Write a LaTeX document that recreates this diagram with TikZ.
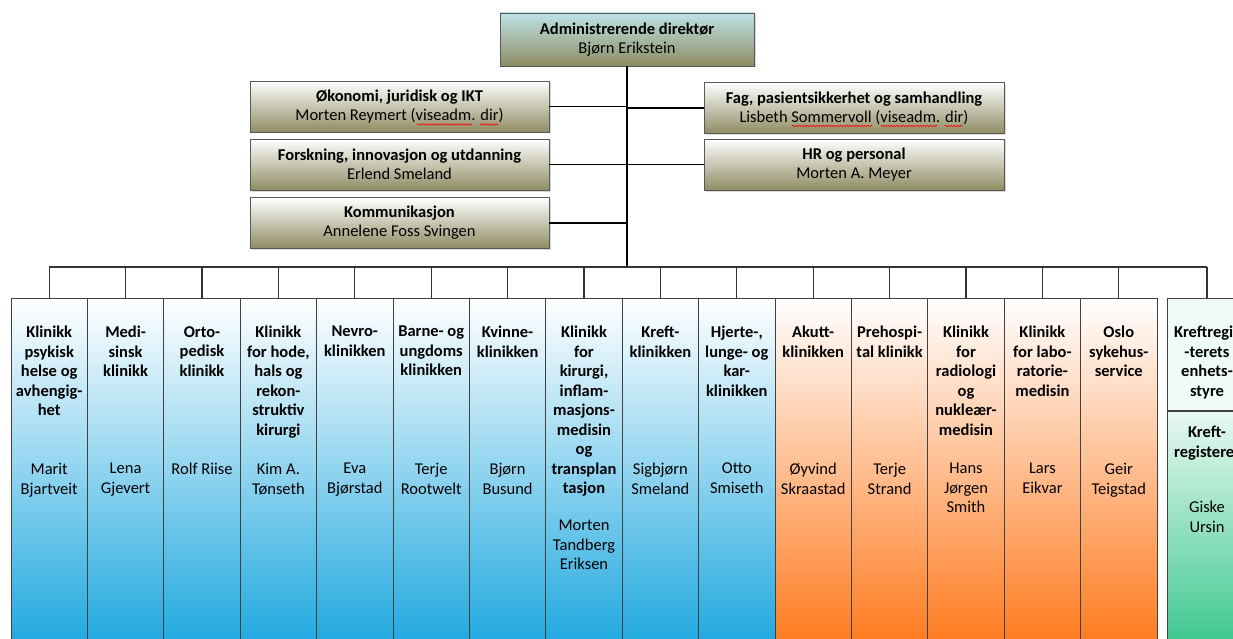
\documentclass[tikz,border=0pt]{standalone}
\usepackage{fontspec}
\setmainfont{Carlito}
\usetikzlibrary{shadows,positioning,decorations.pathmorphing}

\definecolor{oliven}{HTML}{8E8C63}
\definecolor{lysturkis}{HTML}{BDE3E6}
\definecolor{blaa}{HTML}{1FA8DF}
\definecolor{oransje}{HTML}{FF7A1E}
\definecolor{gronn}{HTML}{3CC78E}

\newcommand{\klinikk}[6]{%
  \node[kolonne,#3] (#1) at (#2,298) {};
  \node[tittel] (#1-tittel) at (#2,326) {#4};
  \node[leder] (#1-leder) at (#2,#6) {#5};
  \draw[buss] (#1.north) -- (#1.north |- bus);
}

\begin{document}
\begin{tikzpicture}[x=1pt,y=-1pt,
    stab/.style={rectangle, draw=black!65, minimum width=299, minimum height=51, align=center,
      top color=white, bottom color=oliven, font=\fontsize{16.5}{19}\selectfont,
      drop shadow={shadow xshift=1.5pt, shadow yshift=-1.5pt, opacity=.3}},
    direktor/.style={stab, minimum width=254, minimum height=53, top color=lysturkis},
    kolonne/.style={rectangle, draw=black!75, line width=1pt, anchor=north, inner sep=0,
      minimum width=76.4, minimum height=347},
    blaakolonne/.style={top color=white, middle color=blaa!32!white, bottom color=blaa},
    oransjekolonne/.style={top color=white, middle color=oransje!35!white, bottom color=oransje},
    tittel/.style={anchor=north, inner sep=0, align=center, font=\bfseries\fontsize{16.5}{19.5}\selectfont},
    leder/.style={anchor=north, inner sep=0, align=center, font=\fontsize{16.5}{19.5}\selectfont},
    buss/.style={draw=black!80, line width=1.2pt},
    stamme/.style={draw=black, line width=1.8pt},
    feil/.style={draw=red, line width=.6pt, decorate, decoration={snake, amplitude=.8pt, segment length=3pt}}]
  \useasboundingbox (0,0) rectangle (1233,639);

  \node[direktor] (adm) at (627,39.5) {\textbf{Administrerende direktør}\\Bjørn Erikstein};
  \node[stab] (okonomi) at (399.5,106.5) {\textbf{Økonomi, juridisk og IKT}\\Morten Reymert (viseadm. dir)};
  \node[stab] (forskning) at (399.5,164.5) {\textbf{Forskning, innovasjon og utdanning}\\Erlend Smeland};
  \node[stab] (kommunikasjon) at (399.5,223) {\textbf{Kommunikasjon}\\Annelene Foss Svingen};
  \node[stab, minimum width=300] (fag) at (854,108) {\textbf{Fag, pasientsikkerhet og samhandling}\\Lisbeth Sommervoll (viseadm. dir)};
  \node[stab, minimum width=300] (hr) at (854,164.5) {\textbf{HR og personal}\\Morten A. Meyer};

  % stavekontroll
  \draw[feil] (416.5,124.5) -- (472,124.5);
  \draw[feil] (480,124.5) -- (498,124.5);
  \draw[feil] (792,126) -- (872,126);
  \draw[feil] (881,126) -- (937,126);
  \draw[feil] (944.5,126) -- (962.5,126);

  \coordinate (bus) at (627,267);
  \draw[stamme] (adm.south) -- (bus);
  \draw[stamme] (okonomi.east) -- (okonomi.east -| adm.south);
  \draw[stamme] (forskning.east) -- (forskning.east -| adm.south);
  \draw[stamme] (kommunikasjon.east) -- (kommunikasjon.east -| adm.south);
  \draw[stamme] (fag.west) -- (fag.west -| adm.south);
  \draw[stamme] (hr.west) -- (hr.west -| adm.south);

  \klinikk{psyk}{49.2}{blaakolonne}{Klinikk\\psykisk\\helse og\\avhengig-\\het}{Marit\\Bjartveit}{463}
  \klinikk{medisinsk}{125.6}{blaakolonne}{Medi-\\sinsk\\klinikk}{Lena\\Gjevert}{463}
  \klinikk{orto}{202}{blaakolonne}{Orto-\\pedisk\\klinikk}{Rolf Riise}{463}
  \klinikk{hode}{278.4}{blaakolonne}{Klinikk\\for hode,\\hals og\\rekon-\\struktiv\\kirurgi}{Kim A.\\Tønseth}{463}
  \klinikk{nevro}{354.8}{blaakolonne}{Nevro-\\klinikken}{Eva\\Bjørstad}{463}
  \klinikk{barn}{431.2}{blaakolonne}{Barne- og\\ungdoms\\klinikken}{Terje\\Rootwelt}{463}
  \klinikk{kvinne}{507.6}{blaakolonne}{Kvinne-\\klinikken}{Bjørn\\Busund}{463}
  \klinikk{kirurgi}{584}{blaakolonne}{Klinikk\\for\\kirurgi,\\inflam-\\masjons-\\medisin\\og\\transplan\\tasjon}{Morten\\Tandberg\\Eriksen}{520}
  \klinikk{kreft}{660.4}{blaakolonne}{Kreft-\\klinikken}{Sigbjørn\\Smeland}{463}
  \klinikk{hjerte}{736.8}{blaakolonne}{Hjerte-,\\lunge- og\\kar-\\klinikken}{Otto\\Smiseth}{463}
  \klinikk{akutt}{813.2}{oransjekolonne}{Akutt-\\klinikken}{Øyvind\\Skraastad}{463}
  \klinikk{prehosp}{889.6}{oransjekolonne}{Prehospi-\\tal klinikk}{Terje\\Strand}{463}
  \klinikk{radio}{966}{oransjekolonne}{Klinikk\\for\\radiologi\\og\\nukleær-\\medisin}{Hans\\Jørgen\\Smith}{463}
  \klinikk{lab}{1042.4}{oransjekolonne}{Klinikk\\for labo-\\ratorie-\\medisin}{Lars\\Eikvar}{463}
  \klinikk{ous}{1118.8}{oransjekolonne}{Oslo\\sykehus-\\service}{Geir\\Teigstad}{463}

  % kreftregisteret
  \node[kolonne, minimum width=80, minimum height=112, fill=gronn!8!white] (krgstyre) at (1207,298) {};
  \node[kolonne, minimum width=80, minimum height=235, top color=gronn!12!white, bottom color=gronn, below=0pt of krgstyre] (krg) {};
  \draw[buss] (krgstyre.north) -- (krgstyre.north |- bus);
  \node[tittel] (krgstyre-tittel) at (1207,326) {Kreftregis\\-terets\\enhets-\\styre};
  \node[tittel] (krg-tittel) at (1207,426) {Kreft-\\registeret};
  \node[leder] (krg-leder) at (1207,501) {Giske\\Ursin};

  \draw[buss] (psyk.north |- bus) -- (krgstyre.north |- bus);
\end{tikzpicture}
\end{document}
